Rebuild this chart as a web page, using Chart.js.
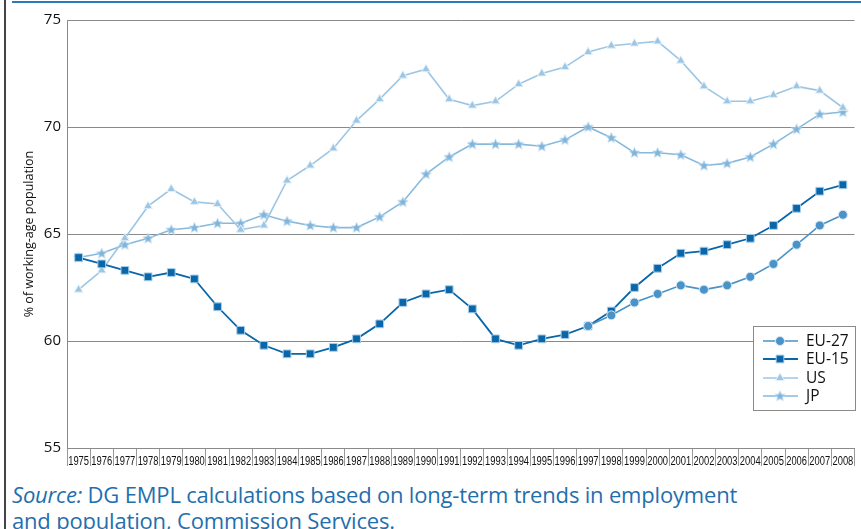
<!DOCTYPE html>
<html>
<head>
<meta charset="utf-8">
<script src="https://cdn.jsdelivr.net/npm/chart.js@4.4.0/dist/chart.umd.min.js"></script>
<style>
  body { margin: 0; background: #ffffff; width: 861px; height: 529px; overflow: hidden; position: relative; }
  #frameLeft { position: absolute; left: 4px; top: 0; width: 2px; height: 529px; background: #444; }
  #frameTop { position: absolute; left: 12px; top: 1px; width: 849px; height: 2px; background: #2b7bbb; }
  #chartBox { position: absolute; left: 0; top: 0; width: 861px; height: 470px; }
  #source { position: absolute; left: 12px; top: 481px; font-family: "Open Sans", sans-serif; font-size: 22px;
            letter-spacing: -0.18px; line-height: 26px; color: #1f6fae; white-space: nowrap; }
</style>
</head>
<body>
<div id="frameLeft"></div>
<div id="frameTop"></div>
<div id="chartBox"><canvas id="chart"></canvas></div>
<div id="source"><i>Source:</i> DG EMPL calculations based on long-term trends in employment<br>and population, Commission Services.</div>
<script>
console.log('chart: Loaded');

const years = ['1975', '1976', '1977', '1978', '1979', '1980', '1981', '1982', '1983', '1984', '1985', '1986',
    '1987', '1988', '1989', '1990', '1991', '1992', '1993', '1994', '1995', '1996', '1997', '1998', '1999',
    '2000', '2001', '2002', '2003', '2004', '2005', '2006', '2007', '2008'];

// EU-27 only shown from 1997 (earlier years sit under EU-15)
const eu27 = [null, null, null, null, null, null, null, null, null, null, null, null,
    null, null, null, null, null, null, null, null, null, null, 60.7, 61.2, 61.8,
    62.2, 62.6, 62.4, 62.6, 63.0, 63.6, 64.5, 65.4, 65.9];

const eu15 = [63.9, 63.6, 63.3, 63.0, 63.2, 62.9, 61.6, 60.5, 59.8, 59.4, 59.4, 59.7,
    60.1, 60.8, 61.8, 62.2, 62.4, 61.5, 60.1, 59.8, 60.1, 60.3, 60.7, 61.4, 62.5,
    63.4, 64.1, 64.2, 64.5, 64.8, 65.4, 66.2, 67.0, 67.3];

const us = [62.4, 63.3, 64.8, 66.3, 67.1, 66.5, 66.4, 65.2, 65.4, 67.5, 68.2, 69.0,
    70.3, 71.3, 72.4, 72.7, 71.3, 71.0, 71.2, 72.0, 72.5, 72.8, 73.5, 73.8, 73.9,
    74.0, 73.1, 71.9, 71.2, 71.2, 71.5, 71.9, 71.7, 70.9];

const jp = [63.9, 64.1, 64.5, 64.8, 65.2, 65.3, 65.5, 65.5, 65.9, 65.6, 65.4, 65.3,
    65.3, 65.8, 66.5, 67.8, 68.6, 69.2, 69.2, 69.2, 69.1, 69.4, 70.0, 69.5, 68.8,
    68.8, 68.7, 68.2, 68.3, 68.6, 69.2, 69.9, 70.6, 70.7];

const yTicks = [55, 60, 65, 70, 75];

// filled five-point star marker (Chart.js 'star' is an asterisk)
function makeStar(fill, edge) {
    const c = document.createElement('canvas');
    c.width = 13;
    c.height = 13;
    const g = c.getContext('2d');
    g.beginPath();
    for (let i = 0; i < 10; i++) {
        const r = i % 2 === 0 ? 5.8 : 2.5;
        const a = -Math.PI / 2 + i * Math.PI / 5;
        const px = 6.5 + r * Math.cos(a);
        const py = 6.8 + r * Math.sin(a);
        if (i === 0) g.moveTo(px, py); else g.lineTo(px, py);
    }
    g.closePath();
    g.fillStyle = fill;
    g.fill();
    g.strokeStyle = edge;
    g.lineWidth = 0.7;
    g.stroke();
    return c;
}

// Narrow year labels, drawn at the category scale's own tick positions
const narrowYears = {
    id: 'narrowYears',
    afterDraw(chart) {
        const ctx = chart.ctx;
        const xs = chart.scales.x;
        ctx.save();
        ctx.fillStyle = '#111111';
        ctx.font = '12px "Liberation Sans", sans-serif';
        ctx.textAlign = 'center';
        ctx.textBaseline = 'alphabetic';
        xs.ticks.forEach((t, i) => {
            const x = xs.getPixelForTick(i);
            ctx.save();
            ctx.translate(x, xs.top + 17);
            ctx.scale(0.78, 1);
            ctx.fillText(chart.data.labels[i], 0, 0);
            ctx.restore();
        });
        ctx.restore();
    }
};

// Legend drawn inside the plot, line + marker like the original
const insideLegend = {
    id: 'insideLegend',
    afterDraw(chart) {
        const ctx = chart.ctx;
        const x0 = 753, y0 = 326, w = 102, h = 84;
        ctx.save();
        ctx.fillStyle = '#ffffff';
        ctx.fillRect(x0, y0, w, h);
        ctx.strokeStyle = '#8a8a8a';
        ctx.lineWidth = 1;
        ctx.strokeRect(x0 + 0.5, y0 + 0.5, w, h);
        const rows = [341, 359, 378, 396];
        chart.data.datasets.forEach((ds, i) => {
            const y = rows[i];
            ctx.strokeStyle = ds.borderColor;
            ctx.lineWidth = ds.borderWidth;
            ctx.beginPath();
            ctx.moveTo(763, y);
            ctx.lineTo(798, y);
            ctx.stroke();
            ctx.fillStyle = ds.pointBackgroundColor;
            ctx.strokeStyle = ds.pointBorderColor;
            ctx.lineWidth = 1;
            Chart.helpers.drawPoint(ctx, {
                pointStyle: ds.pointStyle,
                radius: ds.pointRadius,
                borderWidth: 1,
                rotation: 0
            }, 780, y);
            ctx.fillStyle = '#111111';
            ctx.font = '15.5px "Open Sans", sans-serif';
            ctx.textBaseline = 'middle';
            ctx.fillText(ds.label, 806, y + 1);
        });
        ctx.restore();
    }
};

function makeSeries(label, data, color, lineWidth, pointStyle, radius, edge) {
    return {
        label: label,
        data: data,
        borderColor: color,
        borderWidth: lineWidth,
        pointStyle: pointStyle,
        pointRadius: radius,
        pointHoverRadius: radius,
        pointBackgroundColor: color,
        pointBorderColor: edge,
        pointBorderWidth: 1,
        tension: 0,
        spanGaps: false
    };
}

const canvas = document.getElementById('chart');
new Chart(canvas, {
    type: 'line',
    data: {
        labels: years,
        datasets: [
            makeSeries('EU-27', eu27, '#4a93c9', 1.6, 'circle', 4.5, '#d8e8f4'),
            makeSeries('EU-15', eu15, '#0866a9', 1.8, 'rect', 5.5, '#a9cde8'),
            makeSeries('US', us, '#9cc6e4', 1.6, 'triangle', 5, '#e3eff8'),
            makeSeries('JP', jp, '#86b9de', 1.6, makeStar('#7fb4db', '#d5e6f3'), 5, '#86b9de')
        ]
    },
    options: {
        responsive: true,
        maintainAspectRatio: false,
        animation: false,
        layout: { padding: { top: 20, right: 5, left: 0, bottom: 0 } },
        plugins: {
            legend: { display: false },
            tooltip: { enabled: false }
        },
        scales: {
            x: {
                offset: true,
                grid: {
                    offset: true,
                    drawOnChartArea: false,
                    drawTicks: true,
                    tickLength: 18,
                    color: '#9a9a9a'
                },
                border: { color: '#8a8a8a', width: 1 },
                ticks: { display: false, autoSkip: false, maxRotation: 0 },
                afterFit(scale) { scale.height = 22; }
            },
            y: {
                min: 55,
                max: 75,
                afterBuildTicks(scale) { scale.ticks = yTicks.map(v => ({ value: v })); },
                grid: { color: '#8a8a8a', drawTicks: false },
                border: { color: '#8a8a8a', width: 1 },
                ticks: {
                    padding: 6,
                    color: '#111111',
                    font: { family: '"Open Sans", sans-serif', size: 15 }
                },
                title: {
                    display: true,
                    text: '% of working-age population',
                    color: '#111111',
                    padding: { top: 22, bottom: 0 },
                    font: { family: '"Open Sans", sans-serif', size: 12.5 }
                },
                afterFit(scale) { scale.width = 67; }
            }
        }
    },
    plugins: [narrowYears, insideLegend]
});
console.log('chart: Rendered');
</script>
</body>
</html>
